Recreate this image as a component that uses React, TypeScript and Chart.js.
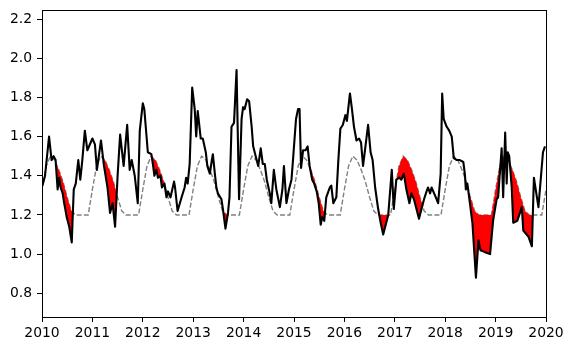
import { useEffect, useRef } from 'react';
import { Chart, registerables } from 'chart.js';

Chart.register(...registerables);

// Observed series: decimal-year times and values
const obsTimes = [
  2010.01, 2010.06, 2010.14, 2010.19, 2010.23, 2010.27, 2010.31, 2010.34, 2010.37, 2010.41,
  2010.44, 2010.49, 2010.54, 2010.59, 2010.63, 2010.67, 2010.72, 2010.76, 2010.80, 2010.85,
  2010.90, 2011.00, 2011.05, 2011.09, 2011.17, 2011.23, 2011.30, 2011.35, 2011.40, 2011.45,
  2011.50, 2011.55, 2011.62, 2011.69, 2011.74, 2011.78, 2011.84, 2011.90, 2011.94, 2012.00,
  2012.03, 2012.10, 2012.17, 2012.20, 2012.23, 2012.27, 2012.30, 2012.35, 2012.38, 2012.43,
  2012.47, 2012.50, 2012.55, 2012.62, 2012.64, 2012.69, 2012.77, 2012.83, 2012.86, 2012.89,
  2012.93, 2012.98, 2013.03, 2013.06, 2013.09, 2013.15, 2013.19, 2013.25, 2013.28, 2013.33,
  2013.37, 2013.39, 2013.43, 2013.46, 2013.49, 2013.56, 2013.59, 2013.64, 2013.69, 2013.72,
  2013.76, 2013.81, 2013.86, 2013.91, 2013.96, 2013.99, 2014.02, 2014.07, 2014.11, 2014.16,
  2014.19, 2014.24, 2014.29, 2014.34, 2014.38, 2014.42, 2014.46, 2014.52, 2014.55, 2014.60,
  2014.65, 2014.72, 2014.77, 2014.80, 2014.85, 2014.90, 2014.95, 2014.98, 2015.04, 2015.08,
  2015.11, 2015.14, 2015.18, 2015.23, 2015.27, 2015.31, 2015.36, 2015.40, 2015.45, 2015.49,
  2015.53, 2015.56, 2015.60, 2015.64, 2015.71, 2015.74, 2015.78, 2015.84, 2015.88, 2015.92,
  2015.97, 2016.02, 2016.05, 2016.11, 2016.15, 2016.19, 2016.24, 2016.29, 2016.33, 2016.37,
  2016.47, 2016.52, 2016.56, 2016.61, 2016.67, 2016.72, 2016.77, 2016.83, 2016.87, 2016.94,
  2016.98, 2017.03, 2017.09, 2017.13, 2017.18, 2017.23, 2017.29, 2017.33, 2017.38, 2017.42,
  2017.48, 2017.53, 2017.58, 2017.63, 2017.66, 2017.70, 2017.73, 2017.78, 2017.83, 2017.86,
  2017.91, 2017.94, 2017.97, 2018.03, 2018.08, 2018.13, 2018.17, 2018.23, 2018.29, 2018.36,
  2018.39, 2018.41, 2018.44, 2018.49, 2018.54, 2018.61, 2018.66, 2018.70, 2018.79, 2018.89,
  2018.95, 2019.02, 2019.05, 2019.12, 2019.15, 2019.19, 2019.22, 2019.24, 2019.27, 2019.32,
  2019.35, 2019.43, 2019.52, 2019.55, 2019.65, 2019.72, 2019.76, 2019.85, 2019.94, 2019.98,
];

const obsValues = [
  1.35, 1.40, 1.60, 1.48, 1.50, 1.48, 1.33, 1.39, 1.34, 1.31,
  1.26, 1.19, 1.14, 1.06, 1.33, 1.36, 1.48, 1.38, 1.48, 1.63,
  1.53, 1.59, 1.56, 1.43, 1.58, 1.45, 1.34, 1.21, 1.26, 1.14,
  1.40, 1.61, 1.45, 1.66, 1.43, 1.48, 1.40, 1.26, 1.63, 1.77,
  1.74, 1.52, 1.51, 1.46, 1.40, 1.43, 1.39, 1.40, 1.34, 1.36,
  1.29, 1.32, 1.29, 1.37, 1.34, 1.22, 1.29, 1.34, 1.39, 1.36,
  1.46, 1.85, 1.74, 1.60, 1.73, 1.59, 1.59, 1.52, 1.45, 1.41,
  1.48, 1.51, 1.41, 1.34, 1.31, 1.28, 1.23, 1.13, 1.21, 1.29,
  1.65, 1.67, 1.94, 1.28, 1.69, 1.75, 1.74, 1.79, 1.78, 1.65,
  1.55, 1.50, 1.45, 1.54, 1.46, 1.46, 1.38, 1.31, 1.26, 1.43,
  1.33, 1.24, 1.33, 1.45, 1.26, 1.33, 1.38, 1.48, 1.69, 1.74,
  1.74, 1.44, 1.53, 1.53, 1.55, 1.45, 1.38, 1.36, 1.32, 1.26,
  1.15, 1.19, 1.17, 1.29, 1.34, 1.35, 1.26, 1.29, 1.48, 1.64,
  1.66, 1.71, 1.68, 1.82, 1.74, 1.65, 1.58, 1.59, 1.57, 1.45,
  1.66, 1.52, 1.48, 1.34, 1.23, 1.16, 1.10, 1.16, 1.20, 1.43,
  1.23, 1.38, 1.39, 1.38, 1.41, 1.33, 1.26, 1.31, 1.28, 1.24,
  1.18, 1.23, 1.28, 1.32, 1.34, 1.31, 1.34, 1.31, 1.28, 1.26,
  1.41, 1.82, 1.69, 1.65, 1.63, 1.60, 1.49, 1.48, 1.48, 1.47,
  1.41, 1.33, 1.36, 1.26, 1.16, 0.88, 1.07, 1.02, 1.01, 1.00,
  1.17, 1.28, 1.29, 1.54, 1.29, 1.62, 1.36, 1.52, 1.50, 1.34,
  1.16, 1.17, 1.24, 1.12, 1.09, 1.04, 1.39, 1.24, 1.52, 1.55,
];

// Monthly climatology (start of each month), repeated every year
const climYears = [2010, 2011, 2012, 2013, 2014, 2015, 2016, 2017, 2018, 2019];
const climValues = [1.33, 1.45, 1.50, 1.48, 1.43, 1.37, 1.29, 1.22, 1.20, 1.20, 1.20, 1.20];
const climEnd = 2020;

const xTicks = [2010, 2011, 2012, 2013, 2014, 2015, 2016, 2017, 2018, 2019, 2020];
const yTicks = [0.8, 1.0, 1.2, 1.4, 1.6, 1.8, 2.0, 2.2];

const X_MIN = 2010;
const X_MAX = 2020;
const Y_MIN = 0.679;
const Y_MAX = 2.246;

type P = { x: number; y: number };

const frame = {
  id: 'frame',
  afterDatasetsDraw(chart: any) {
    const { ctx, chartArea } = chart;
    ctx.save();
    ctx.strokeStyle = '#000';
    ctx.lineWidth = 1;
    ctx.strokeRect(chartArea.left + 0.5, chartArea.top + 0.5, chartArea.right - chartArea.left, chartArea.bottom - chartArea.top);
    ctx.restore();
  },
};

// Piecewise-linear lookup in pixel space (geometry only, used for the fill edges)
function lerpAt(pts: number[][], X: number): number {
  if (X <= pts[0][0]) return pts[0][1];
  const n = pts.length;
  if (X >= pts[n - 1][0]) return pts[n - 1][1];
  let lo = 0;
  let hi = n - 1;
  while (hi - lo > 1) {
    const mid = (lo + hi) >> 1;
    if (pts[mid][0] <= X) lo = mid;
    else hi = mid;
  }
  const [x0, y0] = pts[lo];
  const [x1, y1] = pts[hi];
  return x1 === x0 ? y0 : y0 + ((y1 - y0) * (X - x0)) / (x1 - x0);
}

// Red fill where the observed line (dataset 0) is below the climatology (dataset 1)
const deficitFill = {
  id: 'deficitFill',
  beforeDatasetDraw(chart: any, args: any) {
    if (args.index !== 0) return;
    const { ctx, chartArea: a } = chart;
    const xs = chart.scales.x;
    const ys = chart.scales.y;
    const obs = (chart.data.datasets[0].data as P[]).map((p) => [xs.getPixelForValue(p.x), ys.getPixelForValue(p.y)]);
    const clim = (chart.data.datasets[1].data as P[]).map((p) => [xs.getPixelForValue(p.x), ys.getPixelForValue(p.y)]);
    const start = Math.max(obs[0][0], clim[0][0]);
    const end = Math.min(obs[obs.length - 1][0], clim[clim.length - 1][0]);
    const xsAll = Array.from(new Set([...obs.map((p) => p[0]), ...clim.map((p) => p[0])]))
      .filter((X) => X >= start && X <= end)
      .sort((p, q) => p - q);
    const all: number[] = [];
    for (let i = 0; i < xsAll.length; i++) {
      const X = xsAll[i];
      if (i > 0) {
        const Xp = xsAll[i - 1];
        const d0 = lerpAt(obs, Xp) - lerpAt(clim, Xp);
        const d1 = lerpAt(obs, X) - lerpAt(clim, X);
        if ((d0 > 0 && d1 < 0) || (d0 < 0 && d1 > 0)) {
          all.push(Xp + ((X - Xp) * d0) / (d0 - d1));
        }
      }
      all.push(X);
    }
    // pixel y grows downward: obs below clim means positive difference
    const ds = all.map((X) => lerpAt(obs, X) - lerpAt(clim, X));
    const eps = 1e-6;
    ctx.save();
    ctx.beginPath();
    ctx.rect(a.left, a.top, a.right - a.left, a.bottom - a.top);
    ctx.clip();
    ctx.fillStyle = '#ff0000';
    let i = 0;
    while (i < all.length) {
      if (ds[i] > eps) {
        const s = i > 0 ? i - 1 : i;
        let e = i;
        while (e < all.length && ds[e] > eps) e++;
        const eIdx = Math.min(e, all.length - 1);
        const xa = all[s];
        const xb = all[eIdx];
        ctx.beginPath();
        ctx.moveTo(xa, lerpAt(obs, xa));
        obs.forEach(([X, Y]) => {
          if (X > xa && X < xb) ctx.lineTo(X, Y);
        });
        ctx.lineTo(xb, lerpAt(obs, xb));
        ctx.lineTo(xb, lerpAt(clim, xb));
        for (let k = clim.length - 1; k >= 0; k--) {
          const [X, Y] = clim[k];
          if (X > xa && X < xb) ctx.lineTo(X, Y);
        }
        ctx.lineTo(xa, lerpAt(clim, xa));
        ctx.closePath();
        ctx.fill();
        i = e;
      } else {
        i++;
      }
    }
    ctx.restore();
  },
};

export default function App() {
  const ref = useRef<HTMLCanvasElement | null>(null);

  useEffect(() => {
    if (!ref.current) return;
    const obs = obsTimes.map((t, i) => ({ x: t, y: obsValues[i] }));
    const clim: P[] = [];
    climYears.forEach((yr) => {
      climValues.forEach((v, m) => clim.push({ x: yr + m / 12, y: v }));
    });
    clim.push({ x: climEnd, y: climValues[0] });

    const font = { family: 'DejaVu Sans', size: 13.9 };

    const chart = new Chart(ref.current, {
      type: 'line',
      data: {
        datasets: [
          {
            data: obs,
            borderColor: '#000000',
            borderWidth: 2.1,
            pointRadius: 0,
            tension: 0,
            borderJoinStyle: 'round',
            fill: false,
            order: 0,
          },
          {
            data: clim,
            borderColor: '#808080',
            borderWidth: 1.4,
            borderDash: [5, 2.2],
            pointRadius: 0,
            tension: 0,
            fill: false,
            order: 1,
          },
        ],
      },
      plugins: [deficitFill, frame],
      options: {
        animation: false,
        responsive: false,
        events: [],
        layout: { padding: { left: 0, right: 27, top: 10, bottom: 0 } },
        plugins: {
          legend: { display: false },
          tooltip: { enabled: false },
        },
        scales: {
          x: {
            type: 'linear',
            min: X_MIN,
            max: X_MAX,
            afterBuildTicks: (s: any) => {
              s.ticks = xTicks.map((v) => ({ value: v }));
            },
            afterFit: (s: any) => {
              s.height = 34;
              s.paddingLeft = 0;
              s.paddingRight = 0;
            },
            ticks: {
              callback: (v: any) => String(v),
              color: '#000',
              font,
              padding: 3,
              maxRotation: 0,
              autoSkip: false,
            },
            grid: {
              drawOnChartArea: false,
              drawTicks: true,
              tickLength: 5,
              color: '#000',
              lineWidth: 1,
            },
            border: { display: false },
          },
          y: {
            type: 'linear',
            min: Y_MIN,
            max: Y_MAX,
            afterBuildTicks: (s: any) => {
              s.ticks = yTicks.map((v) => ({ value: v }));
            },
            afterFit: (s: any) => {
              s.width = 42;
              s.paddingTop = 0;
              s.paddingBottom = 0;
            },
            ticks: {
              callback: (v: any) => Number(v).toFixed(1),
              color: '#000',
              font,
              padding: 5,
              autoSkip: false,
            },
            grid: {
              drawOnChartArea: false,
              drawTicks: true,
              tickLength: 5,
              color: '#000',
              lineWidth: 1,
            },
            border: { display: false },
          },
        },
      },
    } as any);

    return () => chart.destroy();
  }, []);

  return (
    <div style={{ position: 'fixed', left: 0, top: 0, width: 573, height: 351, background: '#fff' }}>
      <canvas ref={ref} width={573} height={351} style={{ width: 573, height: 351, display: 'block' }} />
    </div>
  );
}
